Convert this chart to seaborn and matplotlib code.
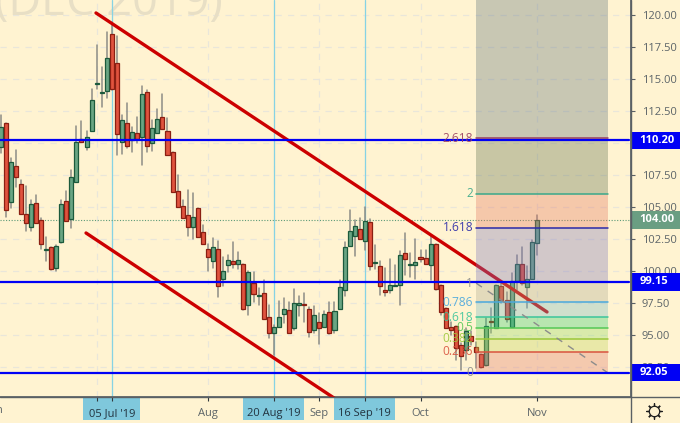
import matplotlib
matplotlib.use("Agg")
import matplotlib.pyplot as plt
import pandas as pd
import seaborn as sns
from matplotlib.lines import Line2D
from matplotlib.patches import Rectangle

# daily ohlc, bar 0 is early June, last bar is 1 Nov
opens = [109.69, 111.56, 105.39, 108.20, 106.80, 104.45, 103.44, 105.31, 103.98, 101.64,
         101.87, 100.23, 102.26, 105.47, 104.06, 106.95, 110.31, 109.69, 110.94, 114.61,
         113.91, 114.06, 118.52, 116.25, 110.08, 111.56, 110.23, 110.78, 110.47, 113.98,
         110.00, 110.78, 112.03, 110.94, 109.30, 106.25, 105.08, 104.37, 103.44, 104.92,
         103.04, 101.72, 100.78, 101.72, 99.37, 100.47, 100.78, 100.55, 100.55, 97.34,
         99.06, 98.05, 98.28, 96.40, 95.16, 95.62, 96.64, 96.95, 95.55, 97.34,
         97.42, 97.03, 95.39, 96.01, 95.62, 96.80, 95.39, 97.03, 98.52, 101.95,
         102.73, 103.28, 102.34, 103.83, 100.62, 100.39, 98.52, 98.52, 98.83, 98.91,
         101.41, 100.47, 100.47, 101.09, 101.01, 100.47, 102.11, 98.91, 97.11, 95.62,
         95.70, 94.22, 93.83, 94.92, 94.06, 93.52, 92.66, 96.09, 95.55, 98.83,
         97.73, 95.62, 99.22, 100.55, 98.75, 99.37, 102.19]
highs = [112.19, 111.56, 108.83, 109.45, 107.11, 106.64, 105.55, 105.94, 104.14, 102.66,
         101.87, 102.03, 105.55, 106.25, 107.89, 111.33, 111.72, 110.94, 114.22, 117.66,
         115.94, 118.67, 119.45, 118.36, 112.19, 113.12, 111.25, 112.03, 114.45, 114.14,
         111.80, 112.65, 113.83, 111.95, 109.30, 107.50, 105.55, 106.33, 106.09, 104.92,
         103.59, 102.11, 102.58, 102.34, 101.09, 101.25, 102.26, 101.48, 100.55, 100.00,
         99.92, 98.67, 99.30, 97.34, 95.78, 97.65, 97.89, 97.58, 98.59, 98.05,
         98.28, 97.19, 97.26, 96.72, 96.87, 97.58, 97.58, 99.30, 102.26, 104.76,
         103.98, 104.14, 105.00, 104.06, 102.03, 100.78, 100.23, 100.94, 100.47, 101.56,
         102.97, 101.41, 102.50, 101.64, 101.64, 102.73, 102.11, 98.91, 97.11, 96.01,
         95.70, 94.37, 95.55, 95.31, 94.45, 93.52, 96.33, 97.11, 98.91, 99.06,
         98.36, 99.84, 101.25, 101.87, 100.39, 102.42, 104.37]
lows = [109.22, 104.22, 104.92, 106.56, 104.45, 103.12, 103.12, 103.75, 101.72, 100.78,
        100.08, 100.00, 102.19, 103.91, 103.36, 106.95, 110.08, 109.45, 110.94, 114.22,
        112.81, 113.51, 114.14, 109.06, 109.14, 109.61, 109.30, 110.00, 108.28, 109.30,
        109.37, 110.78, 111.09, 109.06, 106.17, 105.00, 104.14, 102.73, 102.50, 102.66,
        102.11, 100.00, 100.23, 97.97, 98.83, 99.92, 100.23, 100.16, 96.95, 96.56,
        97.58, 97.34, 96.25, 94.76, 93.44, 95.62, 95.94, 95.16, 95.39, 96.48,
        96.01, 94.84, 95.16, 94.30, 95.62, 95.08, 95.16, 97.03, 98.05, 101.95,
        101.17, 102.50, 101.64, 100.08, 100.16, 98.12, 98.05, 98.28, 98.83, 97.34,
        99.69, 99.53, 99.37, 100.70, 100.55, 99.30, 98.52, 96.56, 95.55, 95.00,
        93.05, 92.27, 93.05, 94.22, 92.42, 92.42, 92.58, 95.16, 95.55, 97.50,
        96.01, 95.62, 98.52, 98.91, 97.11, 99.37, 101.25]
closes = [111.25, 104.76, 108.51, 107.34, 104.45, 103.75, 105.23, 103.75, 102.11, 101.72,
          100.16, 101.95, 105.23, 103.91, 107.34, 110.08, 110.08, 110.47, 113.36, 114.69,
          113.98, 116.64, 114.22, 110.70, 111.80, 109.76, 110.86, 110.31, 113.83, 109.76,
          111.17, 111.87, 111.09, 109.06, 106.17, 105.00, 104.14, 103.44, 104.22, 102.66,
          102.11, 101.09, 101.87, 98.83, 100.00, 100.86, 100.55, 100.86, 97.03, 99.92,
          98.20, 98.12, 96.25, 95.16, 95.62, 96.40, 97.03, 95.16, 97.50, 97.50,
          97.34, 95.23, 96.56, 95.55, 96.64, 95.16, 96.87, 98.75, 101.87, 103.12,
          103.52, 102.50, 103.91, 100.39, 100.70, 98.83, 98.36, 98.91, 98.91, 101.25,
          100.94, 100.55, 100.70, 100.94, 100.55, 102.11, 98.59, 96.80, 95.55, 95.39,
          93.98, 93.36, 95.31, 94.53, 93.67, 92.50, 95.70, 96.01, 98.91, 97.73,
          96.25, 99.22, 100.55, 99.06, 99.37, 102.26, 104.00]

level_prices = [110.20, 99.15, 92.05]
last_price = 104.00

# drawn trend lines, (bar, price) pairs
upper_bars = [18.87, 108]
upper_prices = [120.16, 96.80]
lower_bars = [16.9, 66.2]
lower_prices = [102.97, 90.00]

fib_bars = [94, 120]
fib_labels = ["0", "0.236", "0.382", "0.5", "0.618", "0.786", "1", "1.618", "2", "2.618"]
fib_prices = [92.05, 93.70, 94.72, 95.55, 96.38, 97.55, 99.05, 103.38, 106.05, 110.38]
fib_line_colors = ["#8c8c8c", "#d9533f", "#9cc83a", "#55c855", "#3cc59b", "#4aa8dc",
                   "#8c8c8c", "#2a2aa8", "#3aa88a", "#9a4060"]
fib_fill_colors = ["#e27b6d", "#c0d45c", "#92dc64", "#34ce73", "#79bac3", "#afac92",
                   "#7f78bb", "#e37862", "#627351", "#62757c"]
fib_top = 122.0

marked_bars = [22, 54, 72]
tick_bars = [19, 22, 41, 54, 63, 72, 83, 106]
tick_names = ["", "05 Jul '19", "Aug", "20 Aug '19", "Sep", "16 Sep '19", "Oct", "Nov"]
price_ticks = [92.5, 95, 97.5, 100, 102.5, 105, 107.5, 110, 112.5, 115, 117.5, 120]

BG = "#fff3d1"
BLUE = "#0000f5"
AXIS = "#5a6064"
TEXT = "#5c6468"
BOX = "#7fc8dc"
FONT = "Open Sans"

sns.set_theme(style="white", rc={"axes.facecolor": BG, "figure.facecolor": BG,
                                 "grid.color": "#e9e6da", "grid.linestyle": (0, (5, 5)),
                                 "grid.linewidth": 0.9, "axes.edgecolor": AXIS})
plt.rcParams["font.family"] = [FONT, "DejaVu Sans"]

fig = plt.figure(figsize=(6.8, 4.23), dpi=100)
ax = fig.add_axes([0, 26 / 423, 630.5 / 680, 397 / 423])

bars = pd.DataFrame({"bar": range(len(opens)), "open": opens, "high": highs, "low": lows, "close": closes})
bars["up"] = bars["close"] >= bars["open"]

ax.text(-1, 120.0, "(DEC 2019)", fontsize=32.5, color="#e8dfc5", va="baseline", ha="left", zorder=0.6)

# wicks
wicks = bars.melt(id_vars="bar", value_vars=["high", "low"], value_name="price")
sns.lineplot(data=wicks, x="bar", y="price", units="bar", estimator=None, sort=False,
             color="#8d8d86", lw=1.1, ax=ax, legend=False, zorder=2)

# bodies
for up, fill, edge in [(True, "#69a583", "#1c5a3c"), (False, "#e0533e", "#8a1f12")]:
    part = bars[bars["up"] == up]
    ax.bar(part["bar"], (part["close"] - part["open"]).abs(), bottom=part[["open", "close"]].min(axis=1),
           width=0.8, color=fill, edgecolor=edge, lw=0.9, zorder=3)

for i in marked_bars:
    ax.axvline(i, color="#86d3e4", lw=0.9, zorder=1.5)

ax.axhline(last_price, color="#5c9a78", lw=0.8, ls=(0, (1, 1.5)), zorder=1.8)

sns.lineplot(x=upper_bars, y=upper_prices, estimator=None, sort=False, color="#cc0000", lw=2.4, ax=ax, zorder=4)
sns.lineplot(x=lower_bars, y=lower_prices, estimator=None, sort=False, color="#cc0000", lw=2.4, ax=ax, zorder=4)

# fibonacci block sits over the candles
edges = fib_prices + [fib_top]
for k, c in enumerate(fib_fill_colors):
    ax.fill_between(fib_bars, edges[k], edges[k + 1], color=c, alpha=0.35, lw=0, zorder=5)
for label, p, c in zip(fib_labels, fib_prices, fib_line_colors):
    if label not in ("0", "1"):
        sns.lineplot(x=fib_bars, y=[p, p], estimator=None, color=c, lw=1.1, ax=ax, zorder=5.5)
    ax.text(93.4, p, label, color=c, fontsize=8.6, ha="right", va="center", zorder=6.5, alpha=0.9)
sns.lineplot(x=fib_bars, y=[fib_prices[6], fib_prices[0]], estimator=None, sort=False, color="#8c8c8c",
             lw=1, ls=(0, (5, 5)), ax=ax, zorder=5.5)

for p in level_prices:
    ax.plot([-1, 124.2], [p, p], color=BLUE, lw=1.6, zorder=6)

ax.set(xlabel="", ylabel="")
ax.set_xlim(-0.1, 124.5)
ax.set_ylim(90.156, 121.172)
ax.set_xticks(tick_bars, tick_names)
ax.set_yticks(price_ticks, [f"{p:.2f}" for p in price_ticks])
ax.yaxis.tick_right()
ax.grid(True)
ax.set_axisbelow(True)
ax.tick_params(axis="y", length=3, width=0.8, color=AXIS, labelsize=8, labelcolor=TEXT, pad=5, right=True)
ax.tick_params(axis="x", length=3, width=0.8, color="#30383c", labelsize=8, labelcolor=TEXT, pad=5, bottom=True)
for name, lab in zip(tick_names, ax.get_xticklabels()):
    if "'19" in name:
        lab.set_color("#22333f")
for s in ["top", "left"]:
    ax.spines[s].set_visible(False)

# highlighted date boxes under the axis, below the tick labels
for i in marked_bars:
    half = 5.6 if i == 22 else 6.0
    ax.add_patch(Rectangle((i - half, 0), 2 * half, -23 / 397, transform=ax.get_xaxis_transform(),
                           color=BOX, lw=0, clip_on=False, zorder=0.2))
ax.text(-1, -13 / 397, "Jun", transform=ax.get_xaxis_transform(), ha="center", va="center",
        color=TEXT, fontsize=8, clip_on=False)

# price tags on the right scale
tags = [(p, f"{p:.2f}", BLUE) for p in level_prices] + [(last_price, f"{last_price:.2f}", "#6a9e82")]
for p, label, c in tags:
    ax.add_patch(Rectangle((1.0, p - 0.68), 49.5 / 630.5, 1.36, transform=ax.get_yaxis_transform(),
                           color=c, lw=0, clip_on=False, zorder=7))
    ax.text(1 + 9 / 630.5, p, label, transform=ax.get_yaxis_transform(), color="white", fontsize=8,
            fontweight="bold", ha="left", va="center", clip_on=False, zorder=8)

# axis frame runs on to the figure edge
fig.add_artist(Line2D([0, 1], [26 / 423, 26 / 423], color=AXIS, lw=1))
fig.add_artist(Line2D([630.5 / 680, 630.5 / 680], [0, 1], color=AXIS, lw=1))

# settings gear
gx, gy = 654 / 680, 12.5 / 423
fig.add_artist(Line2D([gx], [gy], marker=(8, 2, 0), ms=11.5, mew=0.9, color="#1c1c1c"))
fig.add_artist(Line2D([gx], [gy], marker="o", ms=7.5, mew=0.9, mfc=BG, mec="#1c1c1c"))

fig.savefig("out.png", dpi=100, facecolor=BG)
